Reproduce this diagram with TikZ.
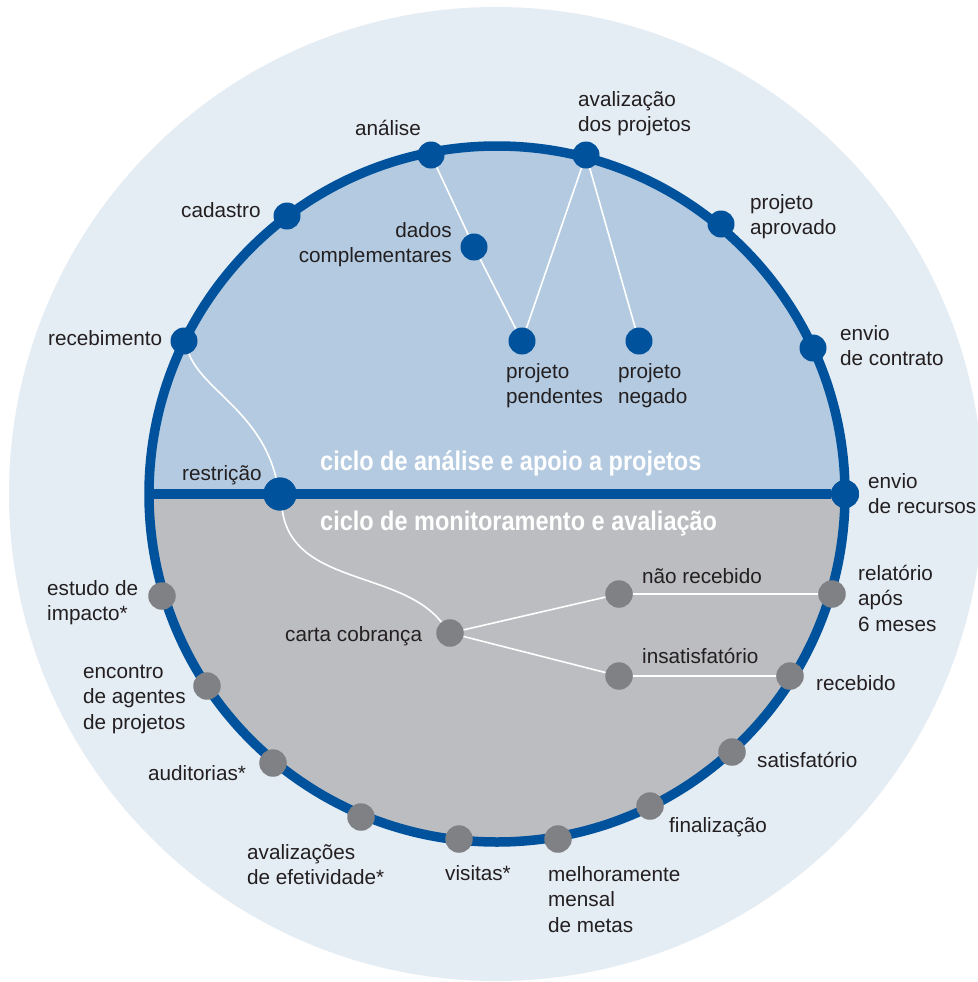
\documentclass[tikz,border=0pt]{standalone}
\usepackage{fontspec}
\setmainfont{Liberation Sans}
\newfontfamily\titlefont[FakeStretch=0.87]{Liberation Sans}
\definecolor{outerbg}{HTML}{E4ECF4}
\definecolor{upperfill}{HTML}{B3CAE0}
\definecolor{lowerfill}{HTML}{BCBDC0}
\definecolor{darkblue}{HTML}{00529C}
\definecolor{graydot}{HTML}{808184}
\definecolor{txt}{HTML}{231F20}
\newcommand{\ml}[1]{\begin{tabular}[t]{@{}l@{}}#1\end{tabular}}
\newcommand{\mr}[1]{\begin{tabular}[t]{@{}r@{}}#1\end{tabular}}
\begin{document}
\begin{tikzpicture}[x=1bp,y=-1bp,
  bdot/.style={circle, fill=darkblue, inner sep=0pt, minimum size=27bp},
  gdot/.style={circle, fill=graydot, inner sep=0pt, minimum size=27.5bp},
  lbl/.style={inner sep=0pt, anchor=base west, text=txt, font=\fontsize{20.7bp}{25.8bp}\selectfont},
  lblr/.style={lbl, anchor=base east},
  ttl/.style={inner sep=0pt, anchor=base west, text=white, font=\titlefont\bfseries\fontsize{27bp}{30bp}\selectfont},
  conn/.style={draw=white, line width=1.6bp},
  ring/.style={draw=darkblue, line width=9.5bp}]
\useasboundingbox (0,0) rectangle (978,982);
% background disc
\fill[outerbg] (496,494) circle[radius=487];
% halves
\begin{scope}
  \clip (497,494) circle[radius=348];
  \fill[upperfill] (140,140) rectangle (860,494);
  \fill[lowerfill] (140,494) rectangle (860,850);
\end{scope}
\draw[ring] (497,494) circle[radius=348];
\coordinate (leftpt) at (149,494);
% nodes (dots)
\node[bdot] (analise) at (431,155) {};
\node[bdot] (cadastro) at (287,216) {};
\node[bdot] (recebimento) at (184,341) {};
\node[bdot] (dados) at (474,247) {};
\node[bdot, minimum size=33bp] (restricao) at (280,494) {};
\node[bdot] (avaliacao) at (586,155) {};
\node[bdot] (aprovado) at (721,224) {};
\node[bdot] (contrato) at (813,348) {};
\node[bdot] (pendentes) at (522,341) {};
\node[bdot] (negado) at (639,341) {};
\node[bdot, minimum size=28bp] (recursos) at (845,494) {};
\node[gdot] (estudo) at (162,596) {};
\node[gdot] (encontro) at (207,686) {};
\node[gdot] (auditorias) at (273,763) {};
\node[gdot] (efetividade) at (361,817) {};
\node[gdot] (visitas) at (459,839) {};
\node[gdot] (carta) at (450,633) {};
\node[gdot] (melhoramente) at (558,839) {};
\node[gdot] (finalizacao) at (650,806) {};
\node[gdot] (satisfatorio) at (732,752) {};
\node[gdot] (recebido) at (790,676) {};
\node[gdot] (relatorio) at (832,594) {};
\node[gdot] (naorecebido) at (619,594) {};
\node[gdot] (insatisfatorio) at (619,676) {};
% diameter line
\draw[ring] (leftpt) -- (recursos);
\node[bdot, minimum size=33bp] at (restricao) {};
\node[bdot, minimum size=28bp] at (recursos) {};
% connectors
\draw[conn] (analise) -- (dados);
\draw[conn] (dados) -- (pendentes);
\draw[conn] (avaliacao) -- (pendentes);
\draw[conn] (avaliacao) -- (negado);
\draw[conn] (recebimento) .. controls (203,390) and (260,412) .. (restricao);
\draw[conn] (restricao) .. controls (293,585) and (400,570) .. (carta);
\draw[conn] (carta) -- (naorecebido);
\draw[conn] (carta) -- (insatisfatorio);
\draw[conn] (naorecebido) -- (relatorio);
\draw[conn] (insatisfatorio) -- (recebido);
% labels
\node[lbl] (l-analise) at (355,135) {análise};
\node[lbl] (l-cadastro) at (181,217) {cadastro};
\node[lblr] (l-dados) at (452,237) {\mr{dados\\complementares}};
\node[lbl] (l-recebimento) at (48,345) {recebimento};
\node[lbl] (l-restricao) at (182,480) {restrição};
\node[lbl] (l-avaliacao) at (578,106) {\ml{avalização\\dos projetos}};
\node[lbl] (l-aprovado) at (750,209) {\ml{projeto\\aprovado}};
\node[lbl] (l-contrato) at (840,340) {\ml{envio\\de contrato}};
\node[lbl] (l-pendentes) at (506,378) {\ml{projeto\\pendentes}};
\node[lbl] (l-negado) at (618,378) {\ml{projeto\\negado}};
\node[lbl] (l-recursos) at (868,488) {\ml{envio\\de recursos}};
\node[ttl] (t-analise) at (320,470) {ciclo de análise e apoio a projetos};
\node[ttl] (t-monit) at (320,530) {ciclo de monitoramento e avaliação};
\node[lbl] (l-estudo) at (47,595) {\ml{estudo de\\impacto*}};
\node[lbl] (l-carta) at (285,641) {carta cobrança};
\node[lbl] (l-encontro) at (83,678) {\ml{encontro\\de agentes\\de projetos}};
\node[lbl] (l-auditorias) at (148,780) {auditorias*};
\node[lbl] (l-efetividade) at (247,859) {\ml{avalizações\\de efetividade*}};
\node[lbl] (l-visitas) at (445,880) {visitas*};
\node[lbl] (l-melhoramente) at (548,881) {\ml{melhoramente\\mensal\\de metas}};
\node[lbl] (l-finalizacao) at (669,832) {finalização};
\node[lbl] (l-satisfatorio) at (757,767) {satisfatório};
\node[lbl] (l-recebido) at (816,690) {recebido};
\node[lbl] (l-relatorio) at (858,580) {\ml{relatório\\após\\6 meses}};
\node[lbl] (l-naorecebido) at (642,583) {não recebido};
\node[lbl] (l-insatisfatorio) at (642,663) {insatisfatório};
\end{tikzpicture}
\end{document}
